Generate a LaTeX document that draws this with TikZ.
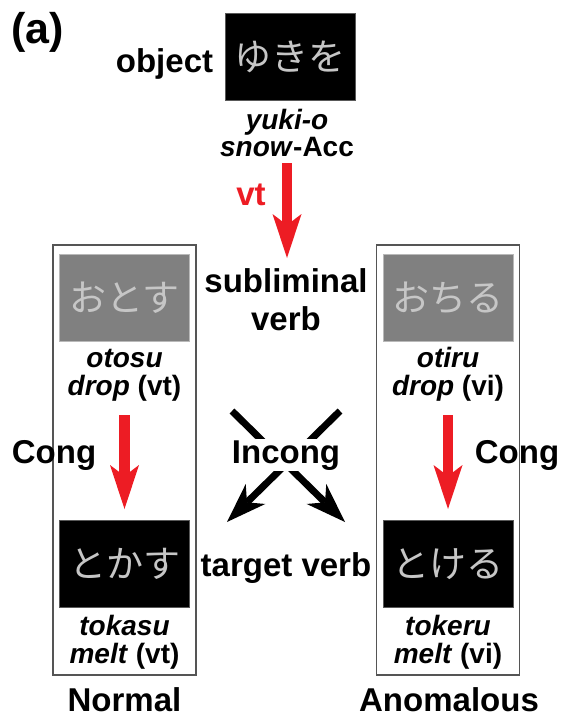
\documentclass[tikz,border=0pt]{standalone}
\usepackage{fontspec}
\setmainfont{Liberation Sans}
\newfontfamily\jp{Noto Sans CJK JP}
\usetikzlibrary{arrows.meta}
\definecolor{arrred}{HTML}{ED1C24}
\definecolor{kanagray}{HTML}{C6C6C6}
\definecolor{boxgray}{HTML}{808080}
\definecolor{framegray}{HTML}{555555}
\begin{document}
\begin{tikzpicture}[x=1pt,y=-1pt,
  lbl/.style={font=\fontsize{33}{36}\selectfont\bfseries, inner sep=0pt, anchor=base},
  gl/.style={font=\fontsize{28}{30}\selectfont\bfseries, inner sep=0pt, anchor=base},
  kana/.style={font=\jp\fontsize{37}{40}\selectfont, text=kanagray, inner sep=0pt,
    minimum width=130pt, minimum height=87pt, line width=0.8pt},
  blackbox/.style={kana, fill=black, draw=gray!70!black},
  graybox/.style={kana, fill=boxgray, draw=gray!55},
  outerbox/.style={draw=framegray, line width=1.2pt, minimum width=143pt, minimum height=430pt, inner sep=0pt},
  redarr/.style={draw=arrred, fill=arrred, line width=10.5pt,
    -{Stealth[length=44pt,width=29pt,inset=11pt,line width=0pt]}},
  blackarr/.style={draw=black, fill=black, line width=7pt,
    -{Stealth[length=40pt,width=28pt,inset=12pt,line width=0pt]}}
]
\useasboundingbox (0,0) rectangle (561,717);

% outer frames
\node[outerbox] (lframe) at (124.5,460) {};
\node[outerbox] (rframe) at (448.3,460) {};

% label (a)
\node[font=\fontsize{43}{46}\selectfont\bfseries, inner sep=0pt, anchor=base west] (panel) at (11,44) {(a)};

% object
\node[blackbox] (obj) at (290,57) {ゆきを};
\node[lbl] (objlbl) at (164.5,72) {object};
\node[gl] (yuki) at (287,129) {\itshape yuki-o};
\node[gl] (snow) at (287,156) {\textit{snow}-Acc};

% top red arrow
\coordinate (a1s) at (287,163);
\coordinate (a1e) at (287,258);
\draw[redarr] (a1s) -- (a1e);
\node[lbl, text=arrred] (vt) at (251,205) {vt};

% subliminal verb
\node[lbl] (sub1) at (286,292) {subliminal};
\node[lbl] (sub2) at (286,330) {verb};

% left column
\node[graybox] (otosu) at (124.5,297.5) {おとす};
\node[gl] (otosur) at (124.5,367) {\itshape otosu};
\node[gl] (otosug) at (124.5,395) {\textit{drop} (vt)};
\node[blackbox] (tokasu) at (124.5,564) {とかす};
\node[gl] (tokasur) at (124.5,635) {\itshape tokasu};
\node[gl] (tokasug) at (124.5,663) {\textit{melt} (vt)};

% right column
\node[graybox] (otiru) at (448,297.5) {おちる};
\node[gl] (otirur) at (448,367) {\itshape otiru};
\node[gl] (otirug) at (448,395) {\textit{drop} (vi)};
\node[blackbox] (tokeru) at (448,564) {とける};
\node[gl] (tokerur) at (448,635) {\itshape tokeru};
\node[gl] (tokerug) at (448,663) {\textit{melt} (vi)};

% congruent arrows
\coordinate (l1s) at (124.5,415);
\coordinate (l1e) at (124.5,509);
\draw[redarr] (l1s) -- (l1e);
\coordinate (r1s) at (448,415);
\coordinate (r1e) at (448,509);
\draw[redarr] (r1s) -- (r1e);
\node[lbl] (congl) at (54,463) {Cong};
\node[lbl] (congr) at (517,463) {Cong};

% incongruent cross
\coordinate (x1s) at (232,411);
\coordinate (x1e) at (345,522);
\coordinate (x2s) at (340,411);
\coordinate (x2e) at (227,522);
\draw[blackarr] (x1s) -- (x1e);
\draw[blackarr] (x2s) -- (x2e);
\node[lbl, fill=white, inner sep=1.5pt] (incong) at (286,463) {Incong};

% target verb
\node[lbl] (target) at (286,576) {target verb};

% bottom labels
\node[lbl] (normal) at (124.5,711) {Normal};
\node[lbl] (anom) at (449,711) {Anomalous};
\end{tikzpicture}
\end{document}
